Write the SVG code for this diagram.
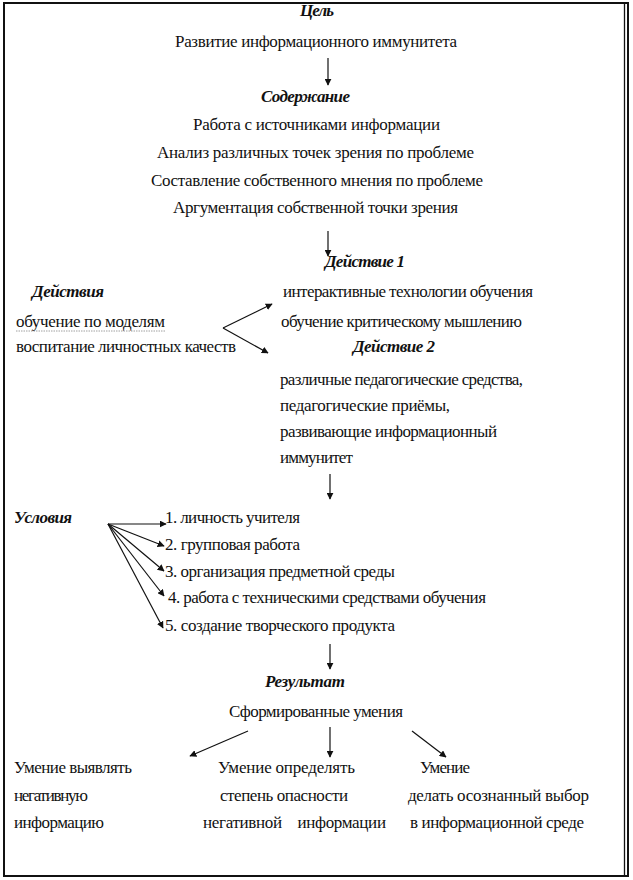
<svg xmlns="http://www.w3.org/2000/svg" width="633" height="880" viewBox="0 0 633 880">
<style>
text{font-family:"Liberation Serif","Times New Roman",serif;font-size:17px;fill:#111}
.h{font-weight:bold;font-style:italic}
.c{stroke:#111;stroke-width:1.2;fill:none}
</style>
<defs>
<marker id="ah" viewBox="0 0 10 10" refX="9" refY="5" markerWidth="7" markerHeight="7" markerUnits="userSpaceOnUse" orient="auto">
<path d="M0,0 L10,5 L0,10 z" fill="#111"/>
</marker>
</defs>
<rect width="633" height="880" fill="#fff"/>
<g id="frame" fill="none" stroke="#111">
<path d="M4,876 L4,3 L628,3 L628,876 Z" stroke-width="2"/>
<line x1="624.5" y1="3" x2="624.5" y2="876" stroke-width="1.3"/>
</g>
<g id="goal">
<text class="h" x="300" y="16" textLength="34">Цель</text>
<text x="175" y="47" textLength="282">Развитие информационного иммунитета</text>
</g>
<g id="content">
<text class="h" x="261" y="102" textLength="89">Содержание</text>
<text x="193" y="130" textLength="247">Работа с источниками информации</text>
<text x="157" y="158" textLength="317">Анализ различных точек зрения по проблеме</text>
<text x="151" y="186" textLength="332">Составление собственного мнения по проблеме</text>
<text x="173" y="213" textLength="285">Аргументация собственной точки зрения</text>
</g>
<g id="actions">
<text class="h" x="32" y="297" textLength="72">Действия</text>
<text x="16" y="327" textLength="149">обучение по моделям</text>
<line x1="16" y1="331" x2="165" y2="331" stroke="#888" stroke-width="0.8" stroke-dasharray="1.5,1"/>
<text x="16" y="352" textLength="220">воспитание личностных качеств</text>
</g>
<g id="action1">
<text class="h" x="325" y="267" textLength="80">Действие 1</text>
<text x="283" y="297" textLength="250">интерактивные технологии обучения</text>
<text x="281" y="327" textLength="241">обучение критическому мышлению</text>
</g>
<g id="action2">
<text class="h" x="353" y="352" textLength="82">Действие 2</text>
<text x="280" y="385" textLength="243">различные педагогические средства,</text>
<text x="280" y="411" textLength="170">педагогические приёмы,</text>
<text x="280" y="437" textLength="217">развивающие информационный</text>
<text x="280" y="463" textLength="73">иммунитет</text>
</g>
<g id="conditions">
<text class="h" x="14" y="523" textLength="58">Условия</text>
<text x="165" y="523" textLength="135">1. личность учителя</text>
<text x="165" y="550" textLength="135">2. групповая работа</text>
<text x="165" y="577" textLength="230">3. организация предметной среды</text>
<text x="168" y="603" textLength="318">4. работа с техническими средствами обучения</text>
<text x="165" y="631" textLength="230">5. создание творческого продукта</text>
</g>
<g id="result">
<text class="h" x="265" y="687" textLength="80">Результат</text>
<text x="229" y="717" textLength="174">Сформированные умения</text>
</g>
<g id="skill1">
<text x="14" y="773" textLength="118">Умение выявлять</text>
<text x="14" y="801" textLength="74">негативную</text>
<text x="14" y="828" textLength="90">информацию</text>
</g>
<g id="skill2">
<text x="218" y="773" textLength="137">Умение определять</text>
<text x="220" y="801" textLength="128">степень опасности</text>
<text x="203" y="828" textLength="183" xml:space="preserve">негативной    информации</text>
</g>
<g id="skill3">
<text x="420" y="773" textLength="50">Умение</text>
<text x="408" y="801" textLength="181">делать осознанный выбор</text>
<text x="410" y="828" textLength="174">в информационной среде</text>
</g>
<g id="connectors" class="c" marker-end="url(#ah)">
<line x1="328" y1="58" x2="328" y2="85"/>
<line x1="328" y1="231" x2="328" y2="256"/>
<line x1="223" y1="328" x2="272" y2="304"/>
<line x1="223" y1="328" x2="268" y2="353"/>
<line x1="330" y1="474" x2="330" y2="499"/>
<line x1="108" y1="524" x2="166" y2="524"/>
<line x1="108" y1="524" x2="164" y2="546"/>
<line x1="108" y1="524" x2="164" y2="571"/>
<line x1="108" y1="524" x2="164" y2="596"/>
<line x1="108" y1="524" x2="163" y2="628"/>
<line x1="330" y1="644" x2="330" y2="669"/>
<line x1="248" y1="731" x2="190" y2="756"/>
<line x1="330" y1="727" x2="330" y2="757"/>
<line x1="412" y1="731" x2="446" y2="757"/>
</g>
</svg>
